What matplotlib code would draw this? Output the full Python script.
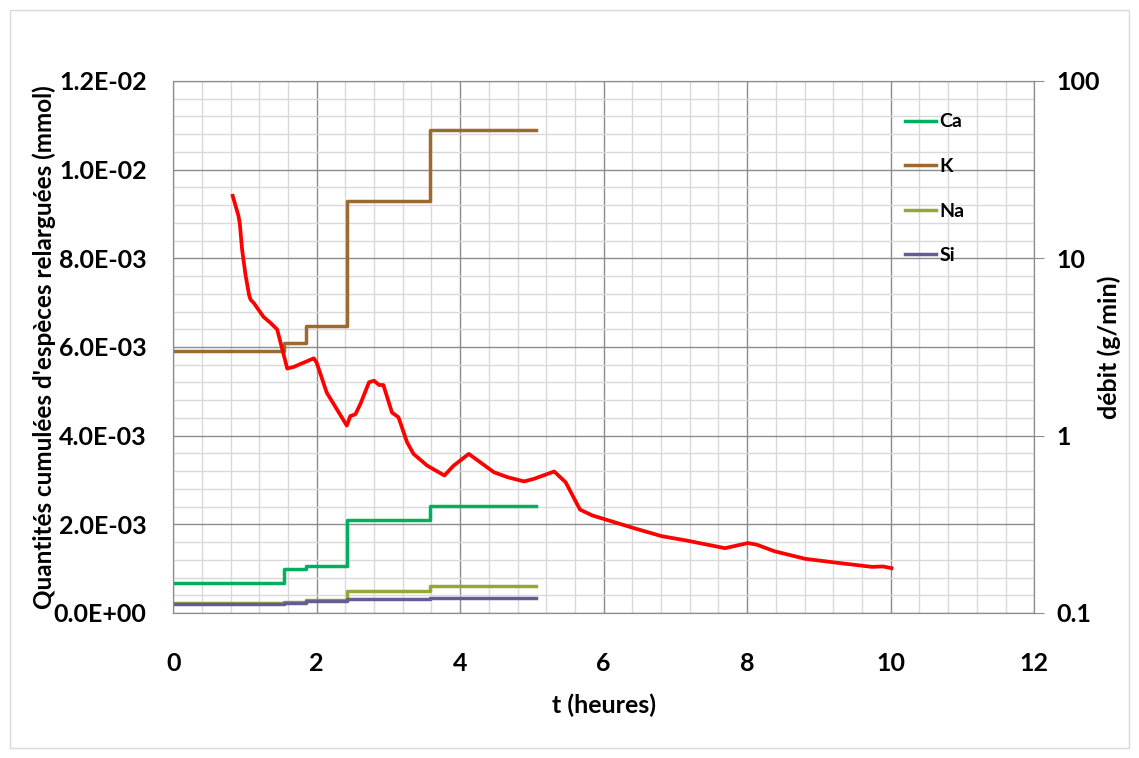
import matplotlib
matplotlib.use("Agg")
import matplotlib.pyplot as plt
from matplotlib.ticker import FuncFormatter, MultipleLocator, FixedLocator, NullLocator
from matplotlib.patches import Rectangle

plt.rcParams["font.family"] = ["Lato", "DejaVu Sans"]
plt.rcParams["font.weight"] = "bold"

# step times (hours) for the cumulative released quantities
step_t = [0, 1.55, 1.85, 2.42, 3.58, 5.06]
ca_vals = [0.67e-3, 0.99e-3, 1.06e-3, 2.10e-3, 2.42e-3, 2.42e-3]
k_vals  = [5.90e-3, 6.10e-3, 6.47e-3, 9.30e-3, 10.9e-3, 10.9e-3]
na_vals = [0.22e-3, 0.25e-3, 0.30e-3, 0.49e-3, 0.62e-3, 0.62e-3]
si_vals = [0.20e-3, 0.22e-3, 0.27e-3, 0.31e-3, 0.33e-3, 0.33e-3]

# flow rate (g/min), right log axis
flow_t = [0.83, 0.91, 0.93, 0.96, 1.01, 1.06, 1.08, 1.125, 1.26, 1.35, 1.45, 1.59,
          1.68, 1.96, 2.00, 2.14, 2.42, 2.47, 2.54, 2.61, 2.73, 2.80, 2.87, 2.93,
          3.05, 3.14, 3.26, 3.35, 3.54, 3.78, 3.91, 4.12, 4.47, 4.66, 4.89, 5.03,
          5.31, 5.47, 5.67, 5.84, 6.42, 6.81, 7.16, 7.69, 8.01, 8.13, 8.38, 8.81,
          9.25, 9.74, 9.89, 10.01]
flow_v = [22.5, 17.4, 15.6, 11.3, 8.0, 6.17, 5.84, 5.59, 4.67, 4.35, 3.97, 2.39,
          2.44, 2.73, 2.58, 1.75, 1.14, 1.29, 1.32, 1.51, 2.00, 2.04, 1.93, 1.93,
          1.35, 1.27, 0.918, 0.789, 0.678, 0.596, 0.678, 0.789, 0.622, 0.583, 0.552, 0.571,
          0.628, 0.546, 0.383, 0.355, 0.301, 0.271, 0.256, 0.232, 0.248, 0.243, 0.223, 0.202,
          0.192, 0.182, 0.183, 0.179]

fig = plt.figure(figsize=(11.39, 7.58), dpi=100)
ax = fig.add_axes([0.152, 0.1913, 0.756, 0.7019])

# outer chart border
fig.patches.append(Rectangle((0.009, 0.013), 0.982, 0.974, transform=fig.transFigure,
                             fill=False, edgecolor="#d9d9d9", linewidth=1))

ax.set_xlim(0, 12)
ax.set_ylim(0, 0.012)
ax.xaxis.set_major_locator(MultipleLocator(2))
ax.xaxis.set_minor_locator(MultipleLocator(0.4))
ax.yaxis.set_major_locator(MultipleLocator(0.002))
ax.yaxis.set_minor_locator(MultipleLocator(0.0004))
ax.yaxis.set_major_formatter(FuncFormatter(lambda v, p: f"{v:.1E}"))
ax.grid(which="minor", color="#d9d9d9", linewidth=1)
ax.grid(which="major", color="#8c8c8c", linewidth=1)
ax.set_axisbelow(True)
ax.tick_params(which="both", length=0, labelsize=18)
ax.tick_params(axis="y", pad=19)
ax.tick_params(axis="x", pad=28)
for s in ax.spines.values():
    s.set_color("#8c8c8c")

ax.plot(step_t, ca_vals, drawstyle="steps-post", color="#00b060", lw=2.5, label="Ca")
ax.plot(step_t, k_vals, drawstyle="steps-post", color="#9c6a30", lw=2.5, label="K")
ax.plot(step_t, na_vals, drawstyle="steps-post", color="#94a83a", lw=2.5, label="Na")
ax.plot(step_t, si_vals, drawstyle="steps-post", color="#625e94", lw=2.5, label="Si")

ax.set_xlabel("t (heures)", fontsize=18, fontweight="bold")
ax.set_ylabel("Quantités cumulées d'espèces relarguées (mmol)", fontsize=17.5,
              fontweight="bold")
ax.xaxis.label.set_va("center")
ax.xaxis.set_label_coords(0.5, -0.173)
ax.yaxis.label.set_va("center")
ax.yaxis.set_label_coords(-0.150, 0.5)

ax2 = ax.twinx()
ax2.set_yscale("log")
ax2.set_ylim(0.1, 100)
ax2.plot(flow_t, flow_v, color="#ff0000", lw=2.7)
ax2.yaxis.set_major_locator(FixedLocator([0.1, 1, 10, 100]))
ax2.yaxis.set_minor_locator(NullLocator())
ax2.yaxis.set_major_formatter(FuncFormatter(lambda v, p: f"{v:g}"))
ax2.tick_params(axis="y", length=7, color="#8c8c8c", labelsize=18, pad=9, direction="out")
for s in ax2.spines.values():
    s.set_color("#8c8c8c")
ax2.set_ylabel("débit (g/min)", fontsize=18, fontweight="bold")
ax2.yaxis.label.set_va("center")
ax2.yaxis.set_label_coords(1.087, 0.5)

leg = ax.legend(loc="upper left", bbox_to_anchor=(0.83, 0.972), frameon=False,
                fontsize=14, handlelength=1.6, handletextpad=0.15, labelspacing=1.42)

fig.savefig("out.png", dpi=100)
